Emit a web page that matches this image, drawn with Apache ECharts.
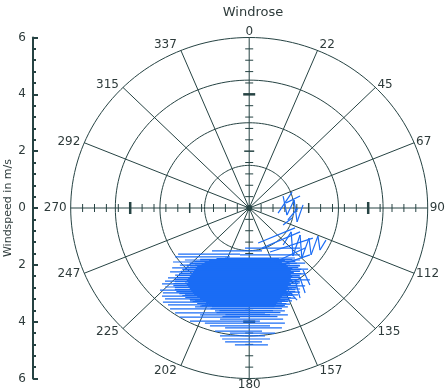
<!DOCTYPE html>
<html><head><meta charset="utf-8">
<script src="https://cdn.jsdelivr.net/npm/echarts@6/dist/echarts.min.js"></script>
<style>html,body{margin:0;padding:0;background:#fff}#c{width:446px;height:390px}</style>
</head><body><div id="c"></div>
<script>
// ---- chart data ----
const speedRings = [1.5, 3, 4.5, 6];
const directionDeg = [0, 22.5, 45, 67.5, 90, 112.5, 135, 157.5, 180, 202.5, 225, 247.5, 270, 292.5, 315, 337.5];
const directionLabels = ['0','22','45','67','90','112','135','157','180','202','225','247','270','292','315','337'];
const speedTickLabels = ['6','4','2','0','2','4','6'];

// horizontal wind traces (north component, east component from -> to), m/s
const rowNorth = [-1.41,-1.51,-1.62,-1.65,-1.72,-1.76,-1.83,-1.87,-1.90,-1.94,-1.97,-2.01,-2.04,-2.08,-2.11,-2.15,-2.18,-2.22,-2.25,-2.29,-2.32,-2.36,-2.39,-2.43,-2.46,-2.50,-2.53,-2.57,-2.60,-2.64,-2.67,-2.71,-2.74,-2.78,-2.81,-2.85,-2.89,-2.92,-2.96,-2.99,-3.03,-3.06,-3.10,-3.13,-3.17,-3.20,-3.24,-3.27,-3.31,-3.34,-3.38,-3.41,-3.45,-3.48,-3.55,-3.62,-3.69,-3.76,-3.84,-3.91,-3.98,-4.05,-4.15,-4.22,-4.33,-4.40,-4.50,-4.61,-4.71,-4.82];
const rowEastFrom = [-0.14,-1.25,-2.39,-0.31,-2.49,-0.81,-2.16,-1.65,-2.56,-0.31,-1.82,-2.33,-1.65,-1.99,-2.59,-0.65,-1.82,-2.16,-2.66,-1.65,-1.82,-2.49,-1.49,-1.99,-2.73,-1.82,-1.65,-2.83,-1.49,-2.16,-2.93,-1.65,-1.82,-2.83,-1.32,-1.99,-3.00,-1.65,-1.65,-2.90,-1.82,-2.16,-2.93,-1.49,-1.65,-2.83,-1.82,-1.99,-2.90,-1.32,-1.49,-2.73,-1.65,-1.82,-2.66,-1.15,-2.49,-1.65,-2.33,-0.98,-1.99,-1.49,-1.32,-0.81,-1.15,-0.65,-0.98,-0.91,-0.81,-0.48];
const rowEastTo = [1.71,0.43,-0.31,1.71,-0.65,1.54,1.71,1.20,0.03,1.88,1.04,1.37,1.71,0.70,0.36,1.98,1.30,1.71,-0.31,1.37,1.88,0.70,1.44,1.71,0.03,1.20,2.04,1.04,1.37,1.71,-0.31,1.30,1.88,0.87,1.44,1.71,0.03,1.27,1.71,1.04,1.37,1.64,-0.31,1.30,1.54,0.70,1.20,1.44,-0.65,1.10,1.37,0.36,1.14,1.30,0.03,1.20,0.53,1.30,-0.31,1.14,0.36,1.20,0.70,1.10,0.43,0.87,0.53,0.70,0.43,0.63];

// dense core traces (north component, east component from -> to), m/s
const coreNorth = [-1.78,-1.81,-1.85,-1.88,-1.92,-1.95,-1.99,-2.02,-2.06,-2.09,-2.13,-2.16,-2.20,-2.23,-2.27,-2.31,-2.34,-2.38,-2.41,-2.45,-2.48,-2.52,-2.55,-2.59,-2.62,-2.66,-2.69,-2.73,-2.76,-2.80,-2.83,-2.87,-2.90,-2.94,-2.97,-3.01,-3.04,-3.08,-3.11,-3.15,-3.18,-3.22,-3.26,-3.29,-3.33,-3.36,-3.40,-3.43,-3.47,-3.54,-3.61,-3.68,-3.75,-3.82];
const coreEastFrom = [-1.10,-1.65,-1.35,-1.85,-1.50,-2.00,-1.60,-2.10,-1.75,-2.15,-1.80,-2.25,-1.85,-2.30,-1.90,-2.35,-1.95,-2.40,-2.00,-2.45,-2.05,-2.50,-2.10,-2.50,-2.05,-2.55,-2.10,-2.55,-2.05,-2.50,-2.00,-2.50,-1.95,-2.45,-1.90,-2.35,-1.85,-2.25,-1.75,-2.15,-1.65,-2.00,-1.55,-1.90,-1.45,-1.75,-1.35,-1.60,-1.25,-1.30,-1.00,-1.10,-0.80,-0.90];
const coreEastTo = [1.00,1.45,1.20,1.55,1.10,1.60,1.25,1.70,1.30,1.65,1.45,1.75,1.40,1.70,1.50,1.75,1.40,1.70,1.45,1.75,1.40,1.65,1.45,1.70,1.35,1.65,1.40,1.60,1.30,1.60,1.35,1.55,1.25,1.55,1.30,1.45,1.15,1.45,1.10,1.40,1.05,1.35,1.00,1.30,0.95,1.25,0.90,1.20,0.85,1.10,0.80,1.05,0.70,0.95];

// oblique wind traces (east, north) start -> end, m/s
const vecEast0  = [0.97,1.14,1.27,1.51,1.61,1.24,1.30,1.14, 1.14,1.41,1.47,1.71,1.77,2.01,2.08,2.31,2.38,0.43,0.30,0.70, 1.54,1.71,1.81,1.30,1.04,0.87];
const vecNorth0 = [-0.18,0.42,-0.25,0.28,-0.49,0.18,-0.42,-0.60, -1.30,-0.84,-1.69,-0.95,-1.76,-1.06,-1.65,-0.99,-1.48,-1.41,-1.23,-1.55, -2.53,-2.46,-2.18,-2.89,-2.01,-1.90];
const vecEast1  = [1.44,1.27,1.51,1.61,1.81,1.71,1.64,1.44, 1.41,1.47,1.71,1.77,2.01,2.08,2.31,2.38,2.58,1.71,1.54,2.14, 1.71,1.88,2.04,1.61,2.04,1.88];
const vecNorth1 = [0.56,-0.25,0.28,-0.49,0.11,0.42,0.00,-0.35, -0.84,-1.69,-0.95,-1.76,-1.06,-1.65,-0.99,-1.48,-1.13,-0.84,-0.70,-1.06, -3.17,-2.99,-2.71,-3.24,-1.65,-1.41];

// ---- build ----
const segments = [];
rowNorth.forEach((v, i) => segments.push([rowEastFrom[i], v, rowEastTo[i], v]));
coreNorth.forEach((v, i) => segments.push([coreEastFrom[i], v, coreEastTo[i], v]));
vecEast0.forEach((u, i) => segments.push([u, vecNorth0[i], vecEast1[i], vecNorth1[i]]));

const FRAME = '#264343';
const TEXT = '#2e3b3b';
const BLUE = '#1a6cf5';
const FONT = 'DejaVu Sans';
const RMAX = 6;

function polar(r, deg) {
  const a = deg * Math.PI / 180;
  return [r * Math.sin(a), r * Math.cos(a)];
}

function renderFrame(params, api) {
  const kids = [];
  const c = api.coord([0, 0]);
  speedRings.forEach(r => {
    const pts = [];
    for (let k = 0; k <= 180; k++) pts.push(api.coord(polar(r, k * 2)));
    kids.push({type: 'polyline', shape: {points: pts}, style: {stroke: FRAME, lineWidth: 1, fill: null}});
  });
  directionDeg.forEach((d, i) => {
    const p = api.coord(polar(RMAX, d));
    kids.push({type: 'line', shape: {x1: c[0], y1: c[1], x2: p[0], y2: p[1]}, style: {stroke: FRAME, lineWidth: 1}});
    const cs = Math.cos(d * Math.PI / 180);
    let align = 'center', dx = 0;
    if (d > 0 && d < 180) { align = 'left'; dx = 2; }
    else if (d > 180) { align = 'right'; dx = -4; }
    const dy = -6 * cs * Math.abs(cs);
    kids.push({type: 'text', x: p[0] + dx, y: p[1] + dy,
      style: {text: directionLabels[i], fill: TEXT, font: '12px "' + FONT + '"', textAlign: align, textVerticalAlign: 'middle'}});
  });
  for (let k = -14; k <= 14; k++) {
    if (k === 0) continue;
    const val = k * 0.4;
    const major = Math.abs(k) === 10;
    const mid = Math.abs(k) === 5;
    const h = major ? 6 : (mid ? 5 : 4);
    const w = major ? 2.5 : (mid ? 1.5 : 1);
    const px = api.coord([val, 0]);
    kids.push({type: 'line', shape: {x1: px[0], y1: px[1] - h, x2: px[0], y2: px[1] + h}, style: {stroke: FRAME, lineWidth: w}});
    const py = api.coord([0, val]);
    kids.push({type: 'line', shape: {x1: py[0] - h, y1: py[1], x2: py[0] + h, y2: py[1]}, style: {stroke: FRAME, lineWidth: w}});
  }
  kids.push({type: 'circle', shape: {cx: c[0], cy: c[1], r: 3}, style: {fill: FRAME}});
  return {type: 'group', children: kids};
}

function renderSeg(params, api) {
  const a = api.coord([api.value(0), api.value(1)]);
  const b = api.coord([api.value(2), api.value(3)]);
  return {type: 'line', shape: {x1: a[0], y1: a[1], x2: b[0], y2: b[1]}, style: {stroke: BLUE, lineWidth: 1.2}};
}

const chart = echarts.init(document.getElementById('c'), null, {renderer: 'canvas'});
chart.setOption({
  animation: false,
  backgroundColor: '#ffffff',
  title: {text: 'Windrose', left: 248, top: 1, textAlign: 'center',
    textStyle: {fontFamily: FONT, fontSize: 13, fontWeight: 'normal', color: TEXT}},
  grid: {left: 70.7, right: 18.3, top: 37.5, bottom: 11.5, containLabel: false, outerBoundsMode: 'none'},
  xAxis: {type: 'value', min: -6, max: 6, show: false},
  yAxis: {
    type: 'value', min: -6, max: 6, interval: 2, position: 'left', offset: 37.7,
    name: 'Windspeed in m/s', nameLocation: 'middle', nameGap: 19, nameMoveOverlap: false,
    nameTextStyle: {fontFamily: FONT, fontSize: 11, color: TEXT},
    axisLine: {show: true, onZero: false, lineStyle: {color: FRAME, width: 2}},
    axisTick: {show: true, inside: true, length: 5, lineStyle: {color: FRAME, width: 2}},
    minorTick: {show: true, splitNumber: 5, length: 3, lineStyle: {color: FRAME, width: 2}},
    axisLabel: {margin: 7, fontFamily: FONT, fontSize: 12, color: TEXT,
      formatter: v => speedTickLabels[Math.round((6 - v) / 2)]},
    splitLine: {show: false}
  },
  series: [
    {type: 'custom', coordinateSystem: 'cartesian2d', clip: false, silent: true, z: 1,
      data: [[0, 0]], renderItem: renderFrame},
    {type: 'custom', coordinateSystem: 'cartesian2d', clip: false, silent: true, z: 2,
      data: segments, encode: {x: [0, 2], y: [1, 3]}, renderItem: renderSeg}
  ]
});
</script>
</body></html>
